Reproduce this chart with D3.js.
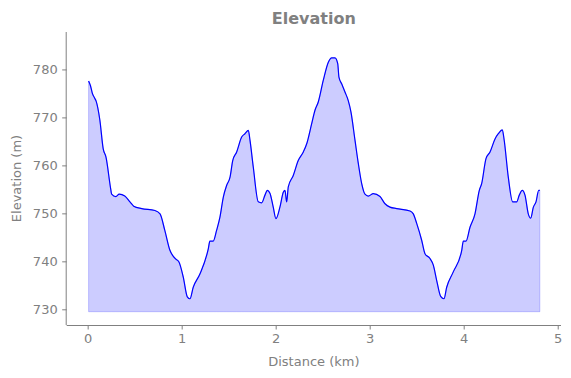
<!DOCTYPE html>
<html>
<head>
<meta charset="utf-8">
<style>
  body { margin: 0; background: #fff; }
  svg text { font-family: "DejaVu Sans", sans-serif; fill: #808080; }
</style>
<script src="https://cdnjs.cloudflare.com/ajax/libs/d3/7.8.5/d3.min.js"></script>
</head>
<body>
<div id="chart"></div>
<script>
// distance along the route (km) and elevation (m)
const distance = [0.01, 0.03, 0.05, 0.075, 0.09, 0.13, 0.165, 0.195, 0.245, 0.255, 0.30, 0.335, 0.395, 0.45, 0.49, 0.575, 0.715, 0.77, 0.82, 0.875, 0.93, 0.97, 1.017, 1.06, 1.088, 1.123, 1.195, 1.283, 1.30, 1.335, 1.372, 1.407, 1.443, 1.478, 1.515, 1.543, 1.585, 1.638, 1.673, 1.709, 1.727, 1.762, 1.815, 1.851, 1.886, 1.911, 1.939, 1.974, 2.003, 2.045, 2.081, 2.099, 2.117, 2.134, 2.187, 2.24, 2.294, 2.33, 2.383, 2.418, 2.453, 2.506, 2.56, 2.596, 2.631, 2.66, 2.673, 2.702, 2.737, 2.772, 2.801, 2.844, 2.879, 2.915, 2.95, 2.985, 3.038, 3.11, 3.163, 3.216, 3.287, 3.429, 3.464, 3.50, 3.553, 3.588, 3.641, 3.677, 3.713, 3.755, 3.79, 3.819, 3.889, 3.979, 3.996, 4.024, 4.067, 4.12, 4.166, 4.191, 4.237, 4.28, 4.333, 4.368, 4.411, 4.429, 4.474, 4.521, 4.564, 4.591, 4.623, 4.652, 4.687, 4.713, 4.741, 4.769, 4.798, 4.81];
const elevation = [777.6, 776.6, 775.0, 774.0, 773.4, 769.4, 763.5, 761.7, 755.1, 754.0, 753.5, 754.0, 753.6, 752.4, 751.5, 751.0, 750.6, 749.9, 746.5, 742.3, 740.6, 739.9, 736.7, 732.6, 732.2, 734.6, 737.4, 742.6, 744.2, 744.2, 746.5, 749.2, 753.4, 755.8, 757.6, 761.0, 762.8, 765.9, 766.6, 767.3, 765.2, 759.6, 752.4, 752.2, 753.8, 754.8, 754.2, 751.3, 748.9, 751.3, 754.4, 754.8, 752.4, 755.5, 757.9, 761.0, 762.8, 764.5, 768.7, 771.5, 773.2, 777.7, 781.5, 782.4, 782.4, 781.2, 778.4, 777.0, 775.3, 773.5, 771.1, 765.2, 760.4, 756.2, 754.0, 753.6, 754.1, 753.5, 752.0, 751.3, 751.0, 750.5, 749.9, 747.9, 744.4, 741.6, 740.6, 739.2, 736.0, 732.7, 732.2, 734.6, 737.8, 742.3, 744.2, 744.2, 747.1, 749.9, 754.8, 756.2, 761.4, 762.8, 765.5, 766.6, 767.4, 765.5, 757.6, 752.4, 752.4, 753.8, 754.8, 753.8, 749.9, 749.0, 751.3, 752.4, 754.8, 754.8];
const baseElevation = 729.5;
const xTicks = [0, 1, 2, 3, 4, 5];
const yTicks = [730, 740, 750, 760, 770, 780];

const w = 571, h = 378;
const margin = { left: 66.7, right: 561, top: 32, bottom: 325 };

const data = distance.map((d, i) => ({ km: d, m: elevation[i] }));

const svg = d3.select("#chart").append("svg")
  .attr("width", w)
  .attr("height", h);

const xScale = d3.scaleLinear().domain([-0.223, 5.035]).range([margin.left, margin.right]);
const yScale = d3.scaleLinear().domain([726.73, 787.8]).range([margin.bottom, margin.top]);

const area = d3.area()
  .x(d => xScale(d.km))
  .y0(yScale(baseElevation))
  .y1(d => yScale(d.m))
  .curve(d3.curveMonotoneX);

const line = d3.line()
  .x(d => xScale(d.km))
  .y(d => yScale(d.m))
  .curve(d3.curveMonotoneX);

svg.append("path")
  .datum(data)
  .attr("d", area)
  .attr("fill", "rgba(0,0,255,0.2)")
  .attr("stroke", "rgba(0,0,255,0.2)")
  .attr("stroke-width", 1);

svg.append("path")
  .datum(data)
  .attr("d", line)
  .attr("fill", "none")
  .attr("stroke", "#0000ff")
  .attr("stroke-width", 1.2);

const xAxis = d3.axisBottom(xScale).tickValues(xTicks).tickFormat(d3.format("d")).tickSize(4.5).tickPadding(4.5);
const yAxis = d3.axisLeft(yScale).tickValues(yTicks).tickFormat(d3.format("d")).tickSize(4.5).tickPadding(4.5);

const gx = svg.append("g")
  .attr("transform", "translate(0," + margin.bottom + ")")
  .call(xAxis);
gx.select(".domain").attr("d", "M" + margin.left + ",0.5H" + margin.right);

const gy = svg.append("g")
  .attr("transform", "translate(" + margin.left + ",0)")
  .call(yAxis);
gy.select(".domain").attr("d", "M-0.5," + margin.top + "V" + margin.bottom);

svg.selectAll(".domain").attr("stroke", "#808080").attr("stroke-width", 1);
svg.selectAll(".tick line").attr("stroke", "#808080");
svg.selectAll(".tick text").attr("font-size", "13px").attr("font-family", null);

svg.append("text")
  .attr("x", (margin.left + margin.right) / 2).attr("y", 24)
  .attr("text-anchor", "middle")
  .style("font-size", "16px")
  .style("font-weight", "bold")
  .text("Elevation");

svg.append("text")
  .attr("x", (margin.left + margin.right) / 2).attr("y", 366)
  .attr("text-anchor", "middle")
  .style("font-size", "13px")
  .text("Distance (km)");

svg.append("text")
  .attr("transform", "translate(21," + (margin.top + margin.bottom) / 2 + ") rotate(-90)")
  .attr("text-anchor", "middle")
  .style("font-size", "13px")
  .text("Elevation (m)");
</script>
</body>
</html>
